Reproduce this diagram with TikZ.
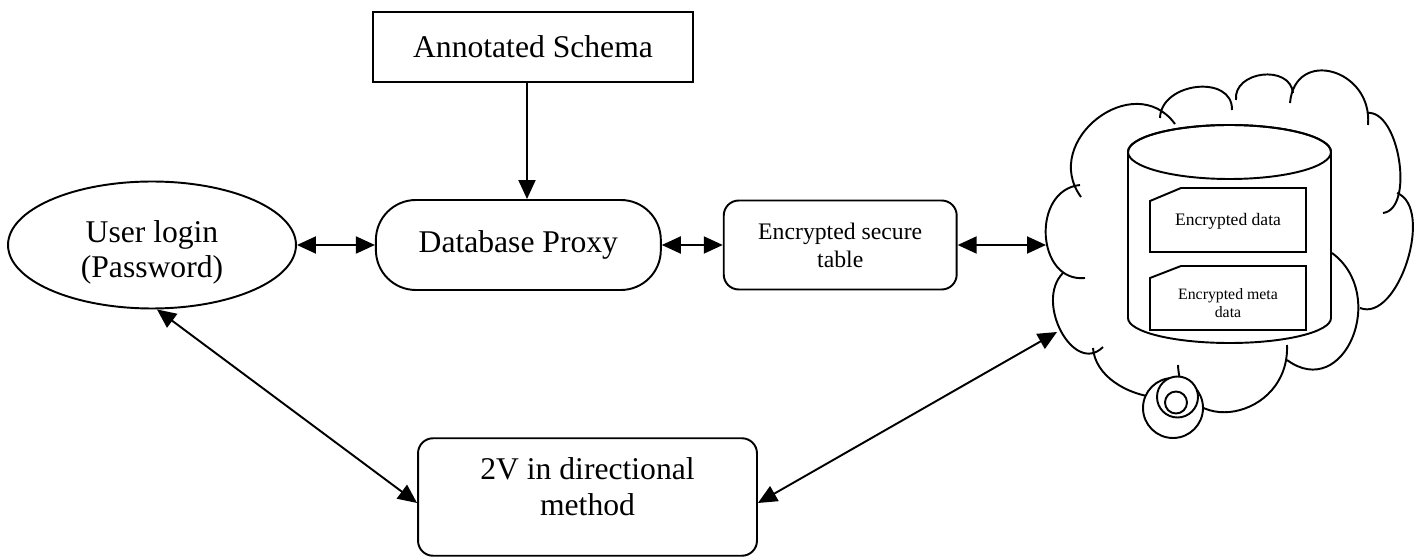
\documentclass[tikz,border=0pt]{standalone}
\usepackage{fontspec}
\setmainfont{Liberation Serif}
\usetikzlibrary{positioning,arrows.meta,shapes.geometric}

\begin{document}
\begin{tikzpicture}[
    x = 0.02cm, y = -0.02cm,
    > = {Triangle[length=0.38cm,width=0.34cm]},
    line width = 1.1pt,
    big/.style={font=\fontsize{18}{20}\selectfont, align=center},
    block/.style={draw, fill=white, big},
    pill/.style={block, rounded corners=0.8cm},
    rbox/.style={draw, fill=white, rounded corners=0.3cm, align=center}
]
    \useasboundingbox (0,0) rectangle (1418,557);

    \node[block, ellipse, inner sep=0pt, minimum width=5.76cm, minimum height=2.54cm] (login) at (152,245) {\rule{0pt}{0.72cm}User login\\(Password)};
    \node[pill, minimum width=5.7cm, minimum height=1.8cm, right=1.56cm of login] (proxy) {Database Proxy};
    \node[rbox, font=\fontsize{13.5}{16}\selectfont, minimum width=4.66cm, minimum height=1.78cm, right=1.22cm of proxy] (secure) {Encrypted secure\\table};
    \node[block, minimum width=6.4cm, minimum height=1.4cm] (schema) at (533,47) {Annotated Schema};
    \node[rbox, big, minimum width=6.78cm, minimum height=2.35cm] (twov) at (587.5,497) {2V in directional\\method\rule[-0.42cm]{0pt}{0pt}};

    % cloud
    \draw (1175,124) .. controls (1134,68) and (1040,141) .. (1081,197);
    \draw (1160,118) .. controls (1161,82) and (1233,74) .. (1232,110);
    \draw (1236,100) .. controls (1233,71) and (1290,64) .. (1293,93);
    \draw (1290,103) .. controls (1295,47) and (1373,69) .. (1368,125);
    \draw (1367,113) .. controls (1399,109) and (1415,209) .. (1383,213);
    \draw (1397,193) .. controls (1435,208) and (1398,323) .. (1360,308);
    \draw (1332,253) .. controls (1389,295) and (1344,402) .. (1287,360);
    \draw (1178,365) .. controls (1181,440) and (1290,420) .. (1287,345);
    \draw (1093,348) .. controls (1095,375) and (1125,395) .. (1160,398);
    \draw (1063,273) .. controls (1034,302) and (1074,376) .. (1103,347);
    \draw (1080,185) .. controls (1031,190) and (1036,283) .. (1085,278);
    \draw[fill=white] (1173,408) circle[radius=30];
    \draw[fill=white] (1177.5,397) circle[radius=20.5];
    \draw (1176,402.5) circle[radius=11];
    \coordinate (cloudw) at (1046,246);
    \coordinate (cloudsw) at (1057,332);

    % database
    \draw[fill=white] (1128,152) -- (1128,318) arc[start angle=180, end angle=0, x radius=101.5, y radius=25]
        -- (1331,152) arc[start angle=0, end angle=-180, x radius=101.5, y radius=27] -- cycle;
    \draw (1229.5,152) ellipse[x radius=101.5, y radius=27];
    \draw (1150,201) -- (1181,188) -- (1306,188) -- (1306,252) -- (1150,252) -- cycle;
    \draw (1150,278) -- (1181,266) -- (1306,266) -- (1306,330) -- (1150,330) -- cycle;
    \node[font=\fontsize{10}{11}\selectfont] (encdata) at (1228,221) {Encrypted data};
    \node[font=\fontsize{9}{10.2}\selectfont, align=center] (encmeta) at (1228,303) {Encrypted meta\\data};

    \draw[->] ([xshift=-0.12cm]schema.south) -- ([xshift=-0.12cm]schema.south |- proxy.north);
    \draw[<->] (login) -- (proxy);
    \draw[<->] (proxy) -- (secure);
    \draw[<->] (secure.east) -- (secure.east -| cloudw);
    \draw[<->] ([xshift=0.1cm]login.south) -- ([yshift=-0.12cm]twov.west);
    \draw[<->] ([yshift=-0.12cm]twov.east) -- (cloudsw);
\end{tikzpicture}
\end{document}
